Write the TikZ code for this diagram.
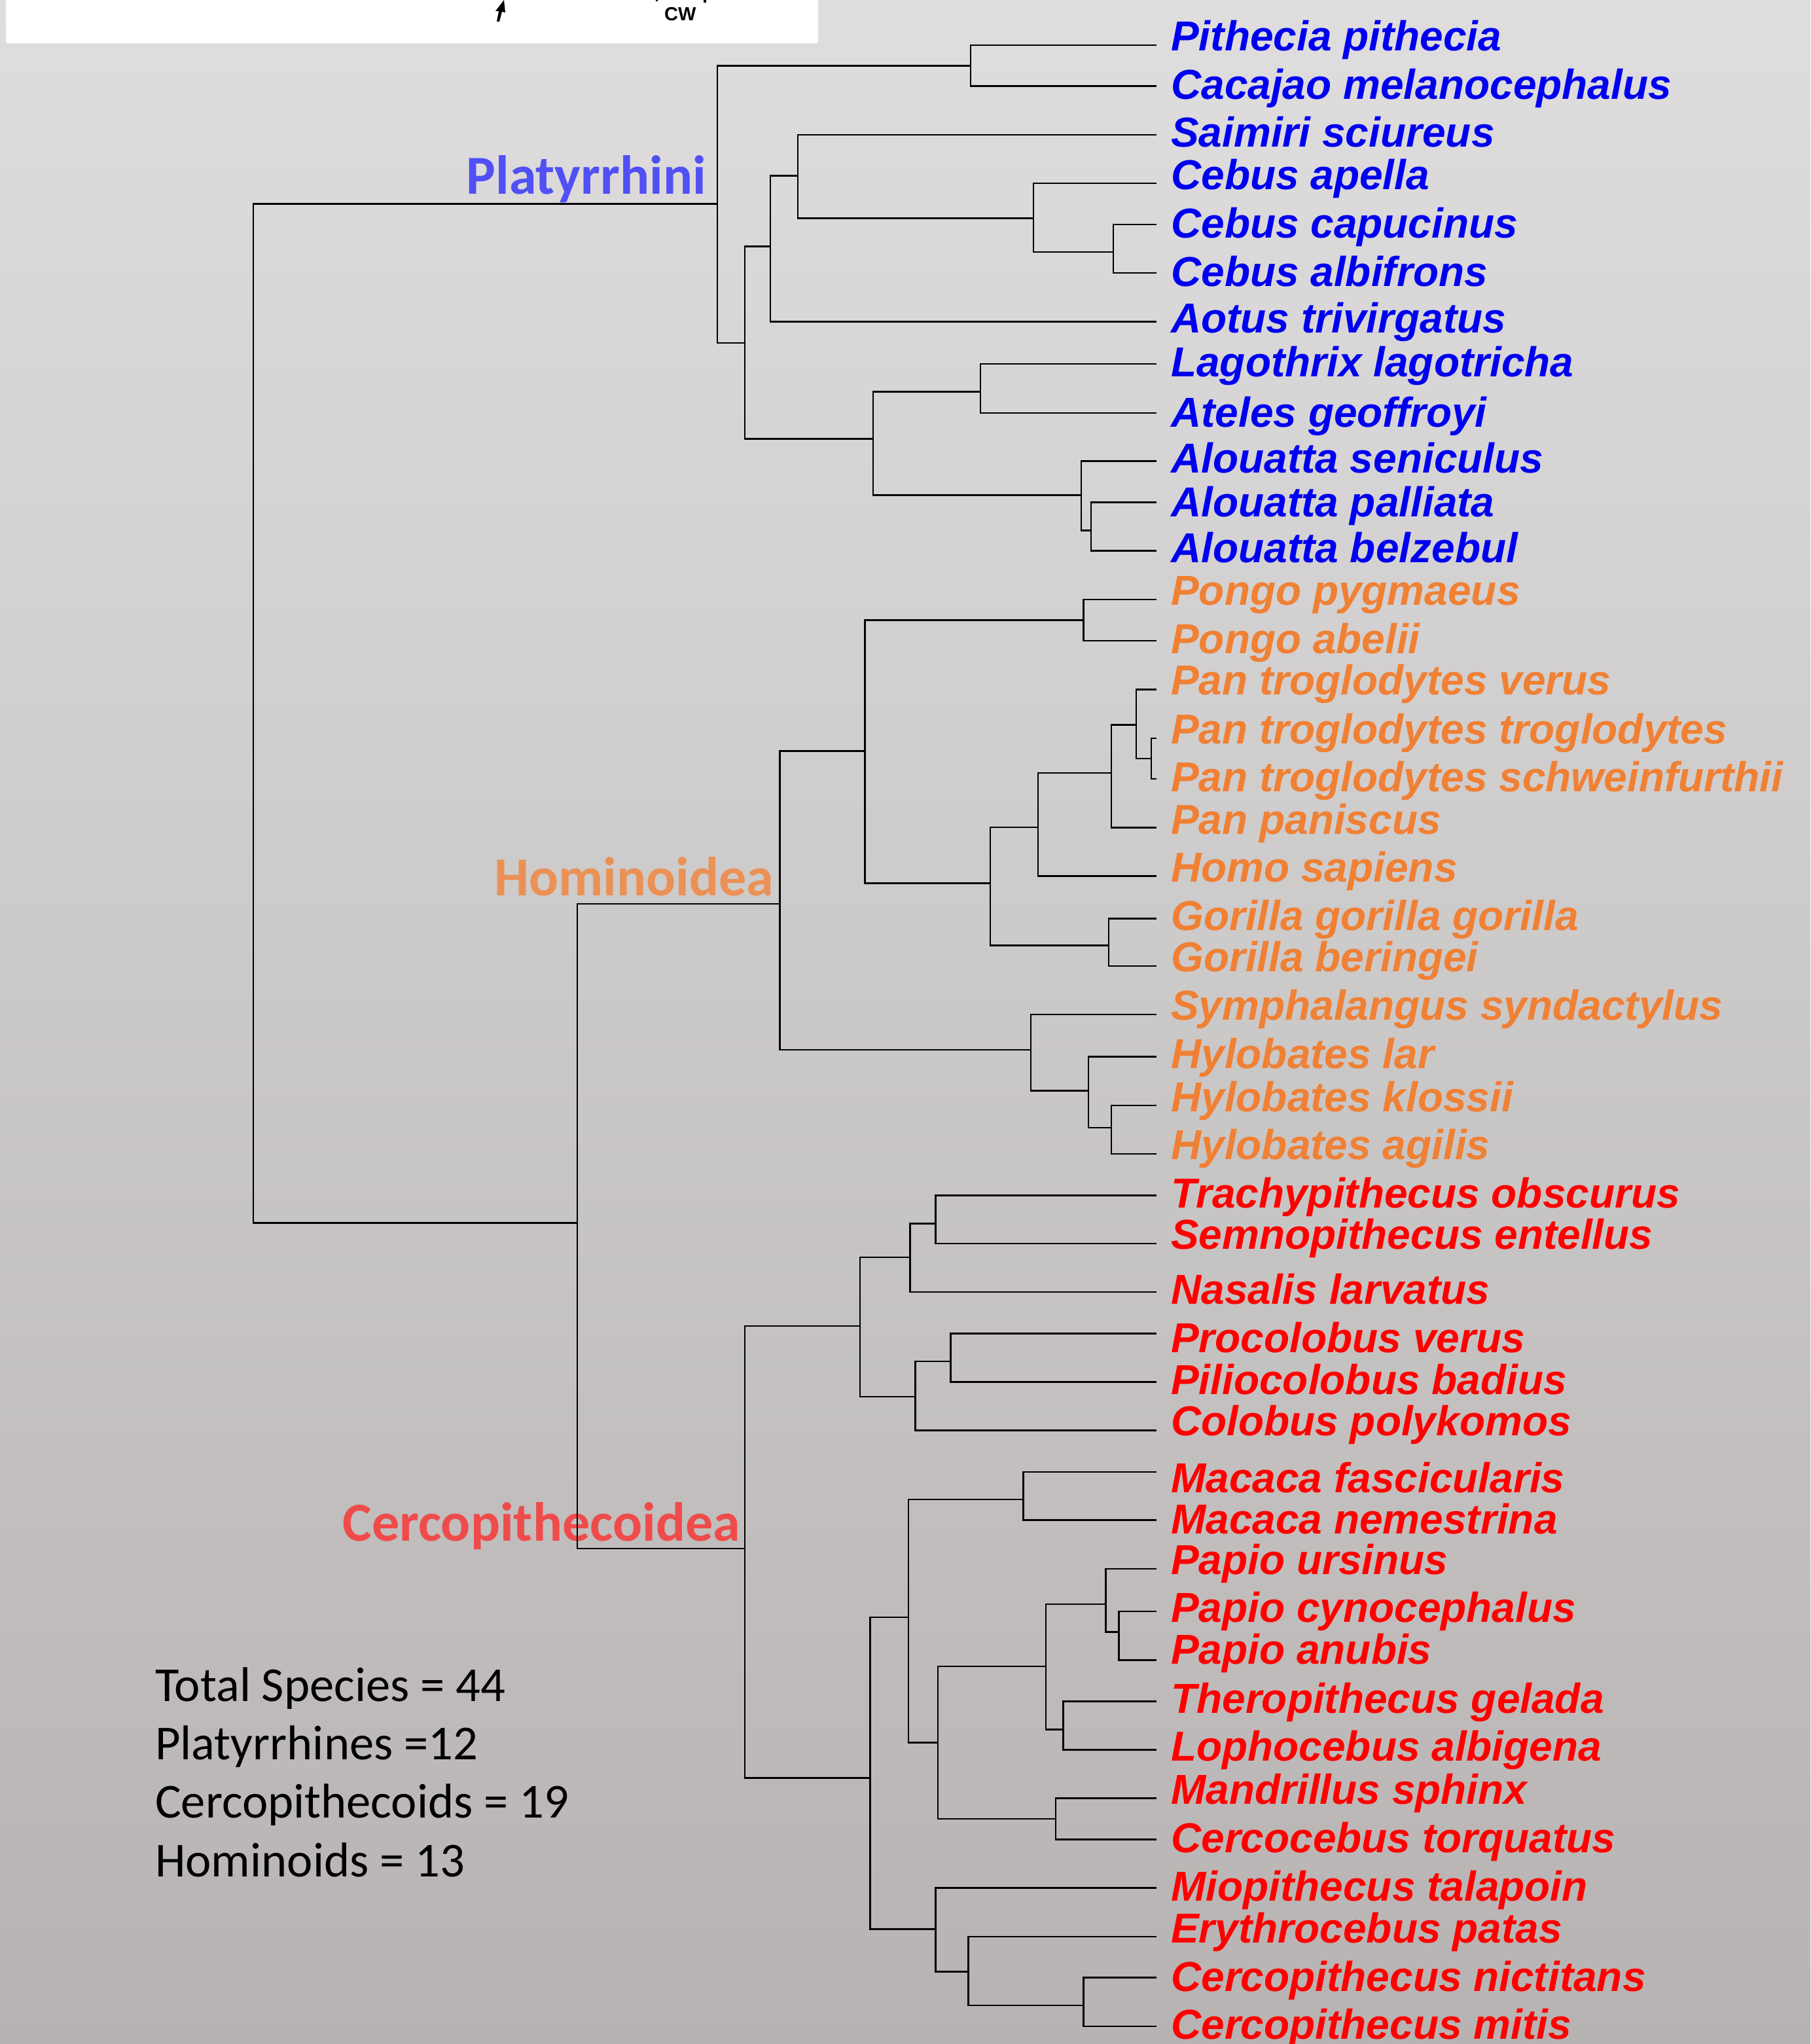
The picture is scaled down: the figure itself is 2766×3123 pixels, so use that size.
\documentclass[tikz,border=0pt]{standalone}
\usepackage{fontspec}
\setmainfont{Liberation Sans}
\newfontfamily\calfont{Carlito}
\definecolor{spblue}{RGB}{0,0,240}
\definecolor{sporange}{RGB}{240,128,52}
\definecolor{spred}{RGB}{255,0,0}
\definecolor{grpblue}{RGB}{80,80,245}
\definecolor{grporange}{RGB}{235,145,85}
\definecolor{grpred}{RGB}{240,75,75}
\definecolor{bgtop}{RGB}{223,221,222}
\definecolor{bgbot}{RGB}{183,179,178}
\tikzset{
 br/.style={line width=2.6pt, black},
 sp/.style={font=\fontsize{64}{77}\selectfont\bfseries\itshape, inner sep=0pt, anchor=base west},
 grp/.style={font=\calfont\fontsize{84}{100}\selectfont\bfseries, inner sep=0pt, anchor=base east},
 sumtxt/.style={font=\calfont\fontsize{74.6}{90}\selectfont, inner sep=0pt, anchor=base west, text=black},
}
\begin{document}
\begin{tikzpicture}[x=1pt,y=-1pt]
\useasboundingbox (0,0) rectangle (2766,3123);
\shade[top color=bgtop, bottom color=bgbot] (0,0) rectangle (2766,3123);
% cut-off white box at top left
\fill[white] (9,0) rectangle (1250,66);
\fill[black] (757,17) -- (770,0) -- (772,19) -- (767,18) -- (763,33) -- (759,33) -- (762,17) -- cycle;
\fill[black] (1002,0) rectangle (1005,2);
\fill[black] (1075,0) rectangle (1079,4);
\node[font=\fontsize{29}{30}\selectfont\bfseries, inner sep=0pt, anchor=base west] (cw) at (1015,32) {CW};

% group labels
\node[grp, text=grpblue] (gPlat) at (1079,296) {Platyrrhini};
\node[grp, text=grporange] (gHom) at (1182,1368) {Hominoidea};
\node[grp, text=grpred] (gCer) at (1131,2354.6) {Cercopithecoidea};

% summary
\node[sumtxt] (s1) at (237,2599) {Total Species = 44};
\node[sumtxt] (s2) at (237,2688.7) {Platyrrhines =12};
\node[sumtxt] (s3) at (237,2777.4) {Cercopithecoids = 19};
\node[sumtxt] (s4) at (237,2867) {Hominoids = 13};

% species labels
\node[sp, text=spblue] (l1) at (1789,77.7) {Pithecia pithecia};
\node[sp, text=spblue] (l2) at (1789,152) {Cacajao melanocephalus};
\node[sp, text=spblue] (l3) at (1789,225) {Saimiri sciureus};
\node[sp, text=spblue] (l4) at (1789,289) {Cebus apella};
\node[sp, text=spblue] (l5) at (1789,363.5) {Cebus capucinus};
\node[sp, text=spblue] (l6) at (1789,437.6) {Cebus albifrons};
\node[sp, text=spblue] (l7) at (1789,508) {Aotus trivirgatus};
\node[sp, text=spblue] (l8) at (1789,575) {Lagothrix lagotricha};
\node[sp, text=spblue] (l9) at (1789,652) {Ateles geoffroyi};
\node[sp, text=spblue] (l10) at (1789,722.6) {Alouatta seniculus};
\node[sp, text=spblue] (l11) at (1789,789.6) {Alouatta palliata};
\node[sp, text=spblue] (l12) at (1789,859.4) {Alouatta belzebul};
\node[sp, text=sporange] (l13) at (1789,924.7) {Pongo pygmaeus};
\node[sp, text=sporange] (l14) at (1789,998.9) {Pongo abelii};
\node[sp, text=sporange] (l15) at (1789,1061.4) {Pan troglodytes verus};
\node[sp, text=sporange] (l16) at (1789,1136) {Pan troglodytes troglodytes};
\node[sp, text=sporange] (l17) at (1789,1209.7) {Pan troglodytes schweinfurthii};
\node[sp, text=sporange] (l18) at (1789,1274.7) {Pan paniscus};
\node[sp, text=sporange] (l19) at (1789,1347.6) {Homo sapiens};
\node[sp, text=sporange] (l20) at (1789,1421.4) {Gorilla gorilla gorilla};
\node[sp, text=sporange] (l21) at (1789,1484.4) {Gorilla beringei};
\node[sp, text=sporange] (l22) at (1789,1558.9) {Symphalangus syndactylus};
\node[sp, text=sporange] (l23) at (1789,1632.6) {Hylobates lar};
\node[sp, text=sporange] (l24) at (1789,1698.4) {Hylobates klossii};
\node[sp, text=sporange] (l25) at (1789,1771.3) {Hylobates agilis};
\node[sp, text=spred] (l26) at (1789,1845.9) {Trachypithecus obscurus};
\node[sp, text=spred] (l27) at (1789,1908.9) {Semnopithecus entellus};
\node[sp, text=spred] (l28) at (1789,1992.6) {Nasalis larvatus};
\node[sp, text=spred] (l29) at (1789,2066.3) {Procolobus verus};
\node[sp, text=spred] (l30) at (1789,2130) {Piliocolobus badius};
\node[sp, text=spred] (l31) at (1789,2193.9) {Colobus polykomos};
\node[sp, text=spred] (l32) at (1789,2280.3) {Macaca fascicularis};
\node[sp, text=spred] (l33) at (1789,2343.3) {Macaca nemestrina};
\node[sp, text=spred] (l34) at (1789,2405) {Papio ursinus};
\node[sp, text=spred] (l35) at (1789,2478.8) {Papio cynocephalus};
\node[sp, text=spred] (l36) at (1789,2542.9) {Papio anubis};
\node[sp, text=spred] (l37) at (1789,2617.2) {Theropithecus gelada};
\node[sp, text=spred] (l38) at (1789,2690.7) {Lophocebus albigena};
\node[sp, text=spred] (l39) at (1789,2756.3) {Mandrillus sphinx};
\node[sp, text=spred] (l40) at (1789,2830.6) {Cercocebus torquatus};
\node[sp, text=spred] (l41) at (1789,2904.5) {Miopithecus talapoin};
\node[sp, text=spred] (l42) at (1789,2968.8) {Erythrocebus patas};
\node[sp, text=spred] (l43) at (1789,3042.3) {Cercopithecus nictitans};
\node[sp, text=spred] (l44) at (1789,3115.8) {Cercopithecus mitis};

% leaf ends
\coordinate (e1) at (1767,69);
\coordinate (e2) at (1767,131.5);
\coordinate (e3) at (1767,206);
\coordinate (e4) at (1767,280);
\coordinate (e5) at (1767,343);
\coordinate (e6) at (1767,417);
\coordinate (e7) at (1767,491.4);
\coordinate (e8) at (1767,556);
\coordinate (e9) at (1767,631);
\coordinate (e10) at (1767,704.5);
\coordinate (e11) at (1767,767.4);
\coordinate (e12) at (1767,841.7);
\coordinate (e13) at (1767,916);
\coordinate (e14) at (1767,979);
\coordinate (e15) at (1767,1053.5);
\coordinate (e16) at (1767,1128);
\coordinate (e17) at (1767,1190);
\coordinate (e18) at (1767,1264.6);
\coordinate (e19) at (1767,1338.5);
\coordinate (e20) at (1767,1403.5);
\coordinate (e21) at (1767,1476);
\coordinate (e22) at (1767,1549.8);
\coordinate (e23) at (1767,1614.7);
\coordinate (e24) at (1767,1689);
\coordinate (e25) at (1767,1763);
\coordinate (e26) at (1767,1826.3);
\coordinate (e27) at (1767,1900);
\coordinate (e28) at (1767,1973.8);
\coordinate (e29) at (1767,2037.2);
\coordinate (e30) at (1767,2111.7);
\coordinate (e31) at (1767,2185.5);
\coordinate (e32) at (1767,2249);
\coordinate (e33) at (1767,2322.6);
\coordinate (e34) at (1767,2397);
\coordinate (e35) at (1767,2462);
\coordinate (e36) at (1767,2536.6);
\coordinate (e37) at (1767,2599.3);
\coordinate (e38) at (1767,2673.2);
\coordinate (e39) at (1767,2747.5);
\coordinate (e40) at (1767,2810.3);
\coordinate (e41) at (1767,2884.6);
\coordinate (e42) at (1767,2958.9);
\coordinate (e43) at (1767,3021.7);
\coordinate (e44) at (1767,3096);

% internal nodes
\coordinate (root) at (387,1090);
\coordinate (plat) at (1096,311.6);
\coordinate (pc) at (1483,100.4);
\coordinate (p2) at (1138,524);
\coordinate (p3) at (1177,376.5);
\coordinate (p4) at (1219,268.6);
\coordinate (cebus) at (1579,333.5);
\coordinate (cc) at (1701,385);
\coordinate (p6) at (1334,670.4);
\coordinate (la) at (1498,598.7);
\coordinate (alou) at (1652,756.5);
\coordinate (ap) at (1667,810.5);
\coordinate (cat) at (882,1868.7);
\coordinate (hom) at (1191.7,1381);
\coordinate (h1) at (1321.5,1147.5);
\coordinate (pongo) at (1655.5,947.2);
\coordinate (h2) at (1513,1349.5);
\coordinate (h3) at (1586,1264);
\coordinate (h4) at (1698,1180.8);
\coordinate (h5) at (1735.9,1107.3);
\coordinate (h6) at (1758.8,1159);
\coordinate (gor) at (1694,1444.3);
\coordinate (hyl) at (1575,1603.8);
\coordinate (hl) at (1663,1666.4);
\coordinate (hk) at (1698,1723);
\coordinate (cer) at (1137.8,2366);
\coordinate (col) at (1314,2026);
\coordinate (c1) at (1390.3,1920.8);
\coordinate (ts) at (1429.4,1869.5);
\coordinate (c2) at (1398.4,2133.8);
\coordinate (pp) at (1452.3,2080);
\coordinate (cm) at (1329.5,2716.2);
\coordinate (m1) at (1388,2471);
\coordinate (mac) at (1563.7,2291);
\coordinate (m2) at (1432.8,2662.3);
\coordinate (m3) at (1598,2545.8);
\coordinate (papio) at (1689.4,2451);
\coordinate (pca) at (1709.5,2493.7);
\coordinate (tl) at (1624.6,2642.3);
\coordinate (mc) at (1613,2778.8);
\coordinate (m7) at (1429.4,2947.4);
\coordinate (m8) at (1479.3,3012.6);
\coordinate (cn) at (1655.5,3064);

% branches
\draw[br] (root) |- (plat); \draw[br] (root) |- (cat);
\draw[br] (plat) |- (pc); \draw[br] (plat) |- (p2);
\draw[br] (pc) |- (e1); \draw[br] (pc) |- (e2);
\draw[br] (p2) |- (p3); \draw[br] (p2) |- (p6);
\draw[br] (p3) |- (p4); \draw[br] (p3) |- (e7);
\draw[br] (p4) |- (e3); \draw[br] (p4) |- (cebus);
\draw[br] (cebus) |- (e4); \draw[br] (cebus) |- (cc);
\draw[br] (cc) |- (e5); \draw[br] (cc) |- (e6);
\draw[br] (p6) |- (la); \draw[br] (p6) |- (alou);
\draw[br] (la) |- (e8); \draw[br] (la) |- (e9);
\draw[br] (alou) |- (e10); \draw[br] (alou) |- (ap);
\draw[br] (ap) |- (e11); \draw[br] (ap) |- (e12);
\draw[br] (cat) |- (hom); \draw[br] (cat) |- (cer);
\draw[br] (hom) |- (h1); \draw[br] (hom) |- (hyl);
\draw[br] (h1) |- (pongo); \draw[br] (h1) |- (h2);
\draw[br] (pongo) |- (e13); \draw[br] (pongo) |- (e14);
\draw[br] (h2) |- (h3); \draw[br] (h2) |- (gor);
\draw[br] (h3) |- (h4); \draw[br] (h3) |- (e19);
\draw[br] (h4) |- (h5); \draw[br] (h4) |- (e18);
\draw[br] (h5) |- (e15); \draw[br] (h5) |- (h6);
\draw[br] (h6) |- (e16); \draw[br] (h6) |- (e17);
\draw[br] (gor) |- (e20); \draw[br] (gor) |- (e21);
\draw[br] (hyl) |- (e22); \draw[br] (hyl) |- (hl);
\draw[br] (hl) |- (e23); \draw[br] (hl) |- (hk);
\draw[br] (hk) |- (e24); \draw[br] (hk) |- (e25);
\draw[br] (cer) |- (col); \draw[br] (cer) |- (cm);
\draw[br] (col) |- (c1); \draw[br] (col) |- (c2);
\draw[br] (c1) |- (ts); \draw[br] (c1) |- (e28);
\draw[br] (ts) |- (e26); \draw[br] (ts) |- (e27);
\draw[br] (c2) |- (pp); \draw[br] (c2) |- (e31);
\draw[br] (pp) |- (e29); \draw[br] (pp) |- (e30);
\draw[br] (cm) |- (m1); \draw[br] (cm) |- (m7);
\draw[br] (m1) |- (mac); \draw[br] (m1) |- (m2);
\draw[br] (mac) |- (e32); \draw[br] (mac) |- (e33);
\draw[br] (m2) |- (m3); \draw[br] (m2) |- (mc);
\draw[br] (m3) |- (papio); \draw[br] (m3) |- (tl);
\draw[br] (papio) |- (e34); \draw[br] (papio) |- (pca);
\draw[br] (pca) |- (e35); \draw[br] (pca) |- (e36);
\draw[br] (tl) |- (e37); \draw[br] (tl) |- (e38);
\draw[br] (mc) |- (e39); \draw[br] (mc) |- (e40);
\draw[br] (m7) |- (e41); \draw[br] (m7) |- (m8);
\draw[br] (m8) |- (e42); \draw[br] (m8) |- (cn);
\draw[br] (cn) |- (e43); \draw[br] (cn) |- (e44);
\end{tikzpicture}
\end{document}
